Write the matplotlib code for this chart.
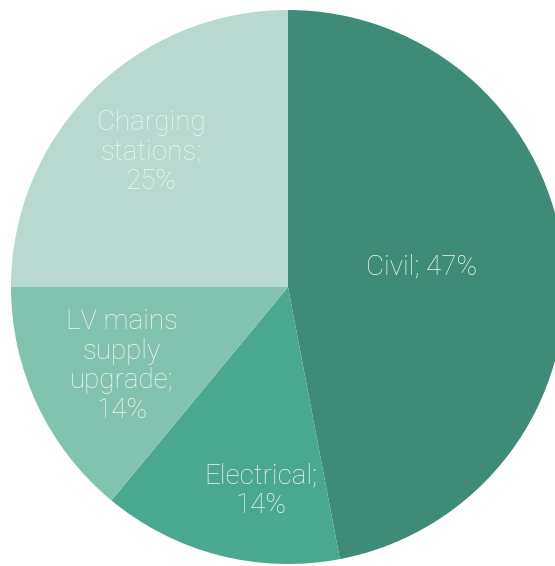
import matplotlib.pyplot as plt

# Cost breakdown shares (%), drawn clockwise from 12 o'clock
categories = ['Civil', 'Electrical', 'LV mains\nsupply\nupgrade', 'Charging\nstations']
shares = [47, 14, 14, 25]
colors = ['#3e8b77', '#4ba890', '#82c3af', '#b7d9cf']

# label positions in pixel coords (x, y from top)
label_xy = [(422, 267), (261, 491), (122, 366), (151, 152)]

W, H = 555, 566
fig = plt.figure(figsize=(W / 100, H / 100), dpi=100)
ax = fig.add_axes([0, 0, 1, 1])

cx, cy, r = 288, 287, 277
ax.pie(shares, colors=colors, startangle=90, counterclock=False,
       center=(cx, H - cy), radius=r, frame=True,
       wedgeprops=dict(linewidth=0))
ax.set_xlim(0, W)
ax.set_ylim(0, H)
ax.axis('off')

for name, val, (x, y) in zip(categories, shares, label_xy):
    txt = f'{name}; {val}%' if name == 'Civil' else f'{name};\n{val}%'
    ax.text(x, H - y, txt, ha='center', va='center', color='#f4f4f4',
            fontsize=20, family='Roboto', fontweight='light',
            linespacing=1.14)

fig.savefig('out.png', dpi=100)
